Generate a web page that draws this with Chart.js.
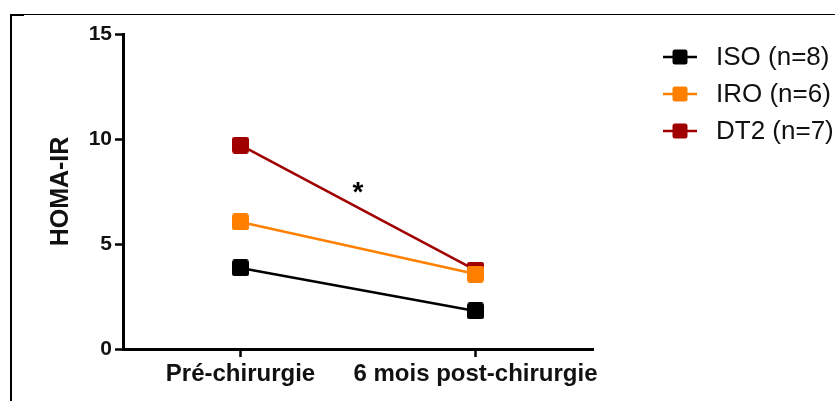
<!DOCTYPE html>
<html>
<head>
<meta charset="utf-8">
<script src="https://cdn.jsdelivr.net/npm/chart.js@4/dist/chart.umd.min.js"></script>
<style>
  html, body { margin: 0; padding: 0; background: #fff; }
  #c { display: block; }
</style>
</head>
<body>
<canvas id="c" width="835" height="401"></canvas>
<script>
// Time points
const categories = ['Pré-chirurgie', '6 mois post-chirurgie'];

// HOMA-IR means per group
const isoValues = [3.86, 1.81];
const iroValues = [6.05, 3.57];
const dt2Values = [9.71, 3.76];

// Group labels
const seriesLabels = ['ISO (n=8)', 'IRO (n=6)', 'DT2 (n=7)'];
const seriesColors = ['#000000', '#ff8000', '#a00000'];

// Y axis ticks
const yTicks = [0, 5, 10, 15];

// Significance marker, placed between the two time points
const significance = { text: '*', value: 7.7 };

const FONT = "Arial, 'Liberation Sans', Helvetica, sans-serif";

// Square marker with slightly rounded corners
function squareMarker(color, side, r) {
  const cv = document.createElement('canvas');
  cv.width = side; cv.height = side;
  const g = cv.getContext('2d');
  g.fillStyle = color;
  g.beginPath();
  g.roundRect(0, 0, side, side, r);
  g.fill();
  return cv;
}

const values = [isoValues, iroValues, dt2Values];
const datasets = values.map((v, i) => ({
  label: seriesLabels[i],
  data: v,
  borderColor: seriesColors[i],
  backgroundColor: seriesColors[i],
  borderWidth: 2.5,
  pointStyle: squareMarker(seriesColors[i], 17, 3),
  pointRadius: 9,
  tension: 0,
  order: i === 2 ? 2 : (i === 1 ? 1 : 0)
}));

// Frame lines at the top and left of the figure
const framePlugin = {
  id: 'frame',
  beforeDraw(chart) {
    const ctx = chart.ctx;
    ctx.save();
    ctx.fillStyle = '#000';
    ctx.fillRect(10, 14, 825, 1);
    ctx.fillRect(10, 14, 2, 387);
    ctx.fillRect(10, 14, 14, 2);
    ctx.restore();
  }
};

// Asterisk annotation and the legend on the right
const annotPlugin = {
  id: 'annot',
  afterDraw(chart) {
    const ctx = chart.ctx;
    const x = chart.scales.x, y = chart.scales.y;
    ctx.save();
    // significance star
    const sx = (x.getPixelForValue(0) + x.getPixelForValue(1)) / 2;
    const sy = y.getPixelForValue(significance.value);
    ctx.font = 'bold 28px ' + FONT;
    ctx.fillStyle = '#000';
    ctx.textAlign = 'center';
    ctx.textBaseline = 'alphabetic';
    const m = ctx.measureText(significance.text);
    const off = (m.actualBoundingBoxAscent - m.actualBoundingBoxDescent) / 2;
    ctx.fillText(significance.text, sx, sy + off);

    // legend
    const lx0 = 663, lx1 = 697, tx = 716;
    const rowY = [57, 94, 131];
    ctx.font = '26px ' + FONT;
    ctx.textAlign = 'left';
    ctx.textBaseline = 'middle';
    chart.data.datasets.forEach((ds, i) => {
      const cy = rowY[i];
      ctx.strokeStyle = ds.borderColor;
      ctx.lineWidth = 2.5;
      ctx.beginPath();
      ctx.moveTo(lx0, cy);
      ctx.lineTo(lx1, cy);
      ctx.stroke();
      ctx.fillStyle = ds.borderColor;
      ctx.beginPath();
      ctx.roundRect((lx0 + lx1) / 2 - 7.5, cy - 7.5, 15, 15, 2.5);
      ctx.fill();
      ctx.fillStyle = '#111';
      ctx.fillText(ds.label, tx, cy + 1);
    });
    ctx.restore();
  }
};

new Chart(document.getElementById('c'), {
  type: 'line',
  data: { labels: categories, datasets },
  plugins: [framePlugin, annotPlugin],
  options: {
    responsive: false,
    animation: false,
    events: [],
    layout: { padding: { left: 0, right: 242, top: 34, bottom: 0 } },
    plugins: { legend: { display: false }, tooltip: { enabled: false } },
    scales: {
      x: {
        type: 'category',
        offset: true,
        afterFit(s) { s.height = 52; },
        grid: { drawOnChartArea: false, drawTicks: true, tickLength: 8, tickWidth: 2.5, tickColor: '#000' },
        border: { display: true, color: '#000', width: 3 },
        ticks: { color: '#111', font: { family: FONT, size: 24, weight: 'bold' }, padding: 3, maxRotation: 0, minRotation: 0, autoSkip: false }
      },
      y: {
        min: 0,
        max: 15,
        afterFit(s) { s.width = 123; },
        afterBuildTicks(s) { s.ticks = yTicks.map(v => ({ value: v })); },
        grid: { drawOnChartArea: false, drawTicks: true, tickLength: 8, tickWidth: 2.5, tickColor: '#000' },
        border: { display: true, color: '#000', width: 3 },
        ticks: { color: '#111', font: { family: FONT, size: 21, weight: 'bold' }, padding: 3 },
        title: {
          display: true,
          text: 'HOMA-IR',
          color: '#111',
          font: { family: FONT, size: 25, weight: 'bold' },
          padding: { top: 46, bottom: 0 }
        }
      }
    }
  }
});
</script>
</body>
</html>
